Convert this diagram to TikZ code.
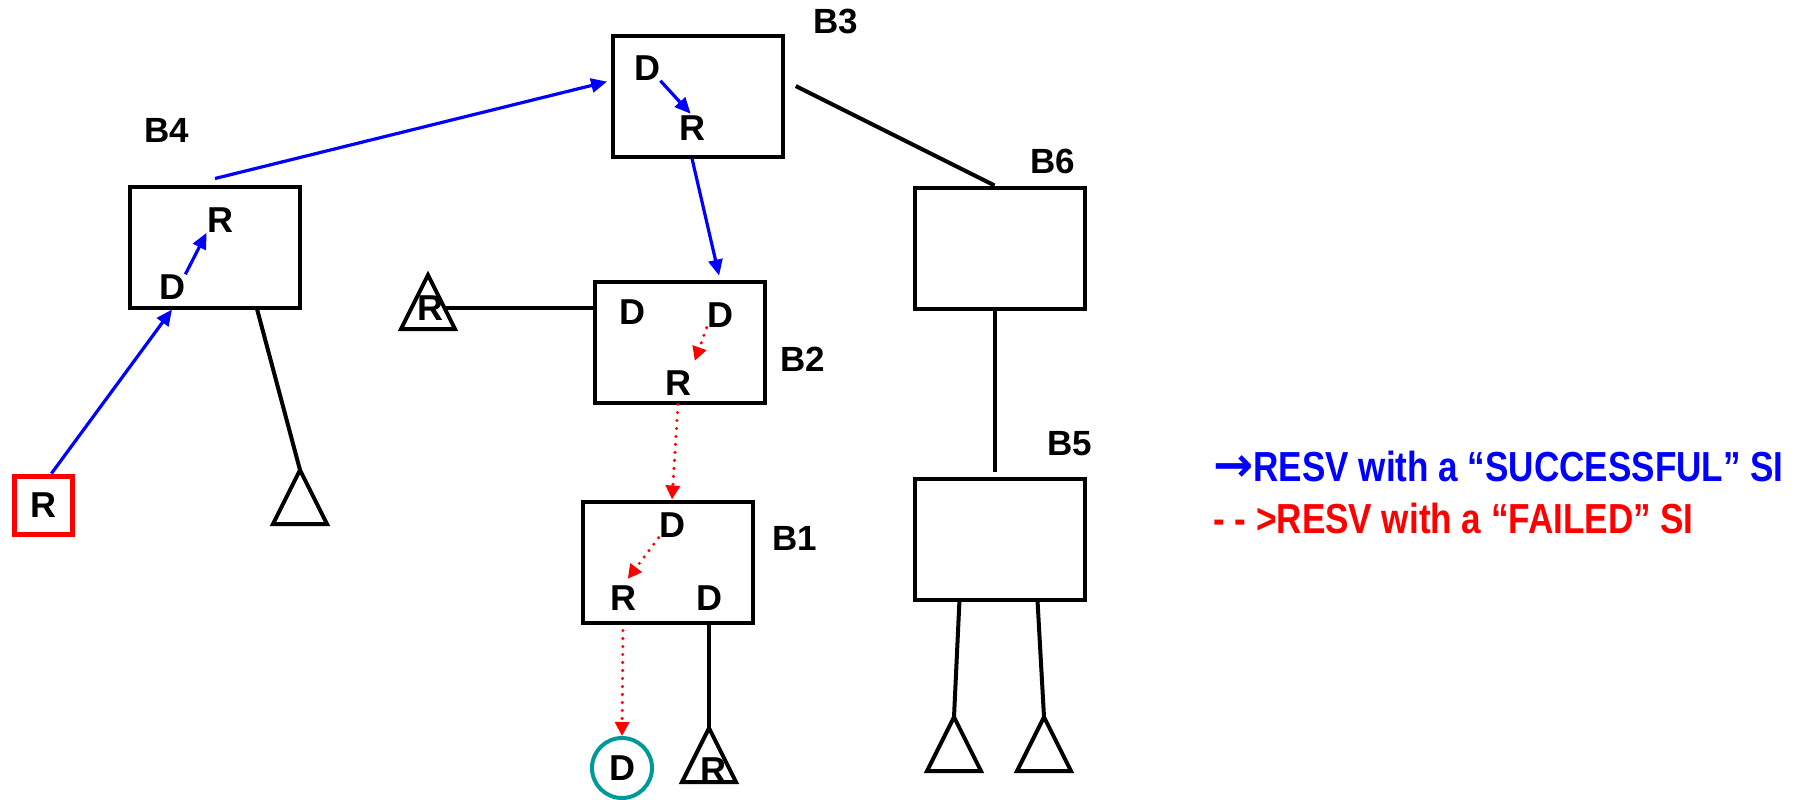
\documentclass[tikz,border=0pt]{standalone}
\usepackage{fontspec}
\setmainfont{Liberation Sans}
\newfontfamily\legendfont{Liberation Sans}[FakeStretch=0.835]
\newfontfamily\arrowfont{DejaVu Sans}
\usepackage{xcolor}
\usetikzlibrary{arrows.meta,positioning,shapes.geometric}
\definecolor{succ}{RGB}{0,0,255}
\definecolor{fail}{RGB}{255,0,0}
\definecolor{dteal}{RGB}{0,153,153}

\begin{document}
\begin{tikzpicture}[
  x=0.5pt, y=-0.5pt,
  blk/.style={draw, line width=2pt, minimum width=85pt, minimum height=60.5pt, inner sep=0pt},
  var/.style={inner sep=0pt, font=\fontsize{18}{20}\selectfont\bfseries},
  lbl/.style={inner sep=0pt, font=\fontsize{17.5}{20}\selectfont\bfseries},
  legend/.style={inner sep=0pt, anchor=west, font=\legendfont\fontsize{21}{23}\selectfont\bfseries},
  link/.style={line width=2pt},
  leaf/.style={line width=2pt, line join=miter},
  ok/.style={-{Triangle[length=8pt,width=7pt]}, line width=1.6pt, succ},
  bad/.style={-{Triangle[length=7pt,width=7pt]}, line width=1.7pt, fail, dash pattern=on 0pt off 4pt, line cap=round}
]
\useasboundingbox (0,0) rectangle (1803,799);

\node[blk] (b4) at (215,247) {};
\node[blk] (b3) at (698,96) {};
\node[blk] (b2) at (680,342) {};
\node[blk] (b1) at (668,562) {};
\node[blk] (b6) at (1000,248) {};
\node[blk] (b5) at (1000,539) {};

\node[lbl] at (167,130) {B4};
\node[lbl] at (836,21) {B3};
\node[lbl] at (803,359) {B2};
\node[lbl] at (795,538) {B1};
\node[lbl] at (1053,161) {B6};
\node[lbl] at (1070,444) {B5};

\node[var] (b4r) at (220,220) {R};
\node[var] (b4d) at (172,287) {D};
\node[var] (b3d) at (647,68) {D};
\node[var] (b3r) at (692,128) {R};
\node[var] (b2dl) at (632,312) {D};
\node[var] (b2dr) at (720,315) {D};
\node[var] (b2r) at (678,383) {R};
\node[var] (b1d) at (672,525) {D};
\node[var] (b1r) at (623,598) {R};
\node[var] (b1dd) at (709,598) {D};

\node[var, draw=fail, line width=2.5pt, minimum size=29pt] (src) at (43,505) {R};
\node[var, circle, draw=dteal, line width=2pt, minimum size=30pt] (dst) at (622,768) {D};

\coordinate (t4) at (300,470);
\coordinate (t2) at (428,275);
\coordinate (t1) at (709,728);
\coordinate (t5a) at (954,717);
\coordinate (t5b) at (1044,717);
\foreach \t in {t4,t2,t1,t5a,t5b}
  \draw[leaf] (\t) -- ++(27,54) -- ++(-54,0) -- cycle;
\node[var] (t2r) at (430,308) {R};
\node[var] (t1r) at (713,770) {R};

\draw[ok, shorten >=2pt] ([yshift=3pt]b4.north) -- (b3.170);
\draw[ok, shorten >=1pt] (b3d.south east) -- (b3r.north);
\draw[ok, shorten >=2pt] (b3r |- b3.south) -- (b2dr |- b2.north);
\draw[ok] (b4d.north east) -- (b4r.south west);
\draw[ok] (src.75) -- (b4d |- b4.south);

\draw[bad] (b2r |- b2.south) -- (b1d |- b1.north);
\draw[bad, shorten >=5pt] (b2dr.south west) -- (b2r.north east);
\draw[bad, shorten >=4pt] (b1d.south west) -- (b1r.north);
\draw[bad, shorten <=3pt] (b1r |- b1.south) -- (dst.north);

\draw[link] (b4.-56) -- (t4);
\draw[link] (t2r.east) -- (t2r -| b2.west);
\draw[link] (b1dd |- b1.south) -- (t1);
\draw[link, shorten <=6pt] (b3.10) -- (b6.95);
\draw[link, shorten >=2.5pt] (b6.-95) -- (b5.95);
\draw[link] (b5.237) -- (t5a);
\draw[link] (b5.-59) -- (t5b);

\node[legend, succ] (key1) at (1213,466) {{\arrowfont\fontsize{24}{24}\selectfont\bfseries →}RESV with a “SUCCESSFUL” SI};
\node[legend, fail] (key2) at (1213,518) {- - >RESV with a “FAILED” SI};
\end{tikzpicture}
\end{document}
